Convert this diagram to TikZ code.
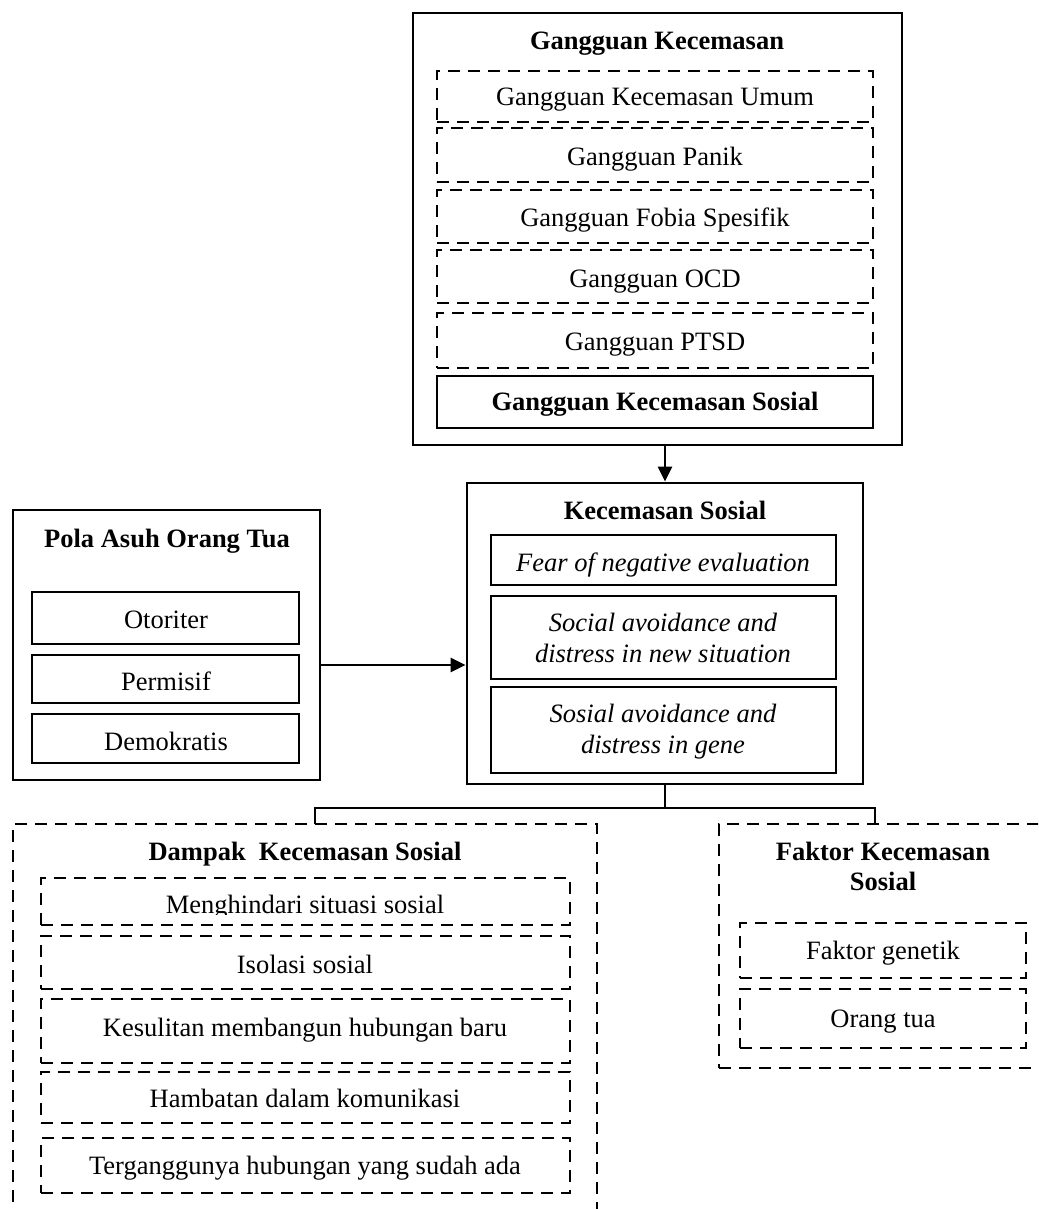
\documentclass[tikz,border=0pt]{standalone}
\usepackage{fontspec}
\setmainfont{Liberation Serif}
\usetikzlibrary{arrows.meta,fit}
\begin{document}
\begin{tikzpicture}[x=1pt,y=-1pt,
  solidbox/.style={draw, line width=2.9pt, inner sep=0pt},
  dashbox/.style={draw, line width=2.9pt, dash pattern=on 12pt off 8pt, inner sep=0pt},
  txt/.style={anchor=base, inner sep=0pt, font=\fontsize{26.5}{30.5}\selectfont},
  ttl/.style={txt, font=\fontsize{26.5}{30.5}\selectfont\bfseries},
  itx/.style={txt, font=\fontsize{26.5}{30.5}\selectfont\itshape},
  conn/.style={line width=2.9pt},
  arr/.style={conn, -{Triangle[length=15pt,width=14pt]}}]
\clip (0,0) rectangle (1038,1209);

% ---------- Gangguan Kecemasan ----------
\node[solidbox, fit={(413,13) (902,445)}] (gk) {};
\node[ttl] (gk-t) at (657,50) {Gangguan Kecemasan};
\node[dashbox, fit={(437,71) (873,122)}] (gk1) {};
\node[txt] (gk1-t) at (655,106) {Gangguan Kecemasan Umum};
\node[dashbox, fit={(437,128) (873,182)}] (gk2) {};
\node[txt] (gk2-t) at (655,166) {Gangguan Panik};
\node[dashbox, fit={(437,190) (873,243)}] (gk3) {};
\node[txt] (gk3-t) at (655,226) {Gangguan Fobia Spesifik};
\node[dashbox, fit={(437,250) (873,303)}] (gk4) {};
\node[txt] (gk4-t) at (655,287) {Gangguan OCD};
\node[dashbox, fit={(437,313) (873,368)}] (gk5) {};
\node[txt] (gk5-t) at (655,350) {Gangguan PTSD};
\node[solidbox, fit={(437,376) (873,428)}] (gk6) {};
\node[ttl] (gk6-t) at (655,410) {Gangguan Kecemasan Sosial};

% ---------- Pola Asuh Orang Tua ----------
\node[solidbox, fit={(13,510) (320,780)}] (pola) {};
\node[ttl] (pola-t) at (167,547) {Pola Asuh Orang Tua};
\node[solidbox, fit={(32,592) (299,644)}] (p1) {};
\node[txt] (p1-t) at (166,628) {Otoriter};
\node[solidbox, fit={(32,655) (299,703)}] (p2) {};
\node[txt] (p2-t) at (166,690) {Permisif};
\node[solidbox, fit={(32,714) (299,763)}] (p3) {};
\node[txt] (p3-t) at (166,750) {Demokratis};

% ---------- Kecemasan Sosial ----------
\node[solidbox, fit={(467,483) (863,784)}] (ks) {};
\node[ttl] (ks-t) at (665,519) {Kecemasan Sosial};
\node[solidbox, fit={(491,535) (836,585)}] (k1) {};
\node[itx] (k1-t) at (663,571) {Fear of negative evaluation};
\node[solidbox, fit={(491,596) (836,679)}] (k2) {};
\node[itx] (k2-a) at (663,631) {Social avoidance and};
\node[itx] (k2-b) at (663,662) {distress in new situation};
\node[solidbox, fit={(491,687) (836,773)}] (k3) {};
\node[itx] (k3-a) at (663,722) {Sosial avoidance and};
\node[itx] (k3-b) at (663,753) {distress in gene};

% ---------- Dampak Kecemasan Sosial ----------
\node[dashbox, fit={(13,824) (597,1230)}] (dk) {};
\node[ttl] (dk-t) at (305,860) {Dampak\ \ Kecemasan Sosial};
\node[dashbox, fit={(41,878) (570,925)}] (d1) {};
\begin{scope}
  \clip (41,878) rectangle (570,914);
  \node[txt] (d1-t) at (305,913) {Menghindari situasi sosial};
\end{scope}
\node[dashbox, fit={(41,936) (570,989)}] (d2) {};
\node[txt] (d2-t) at (305,973) {Isolasi sosial};
\node[dashbox, fit={(41,999) (570,1063)}] (d3) {};
\node[txt] (d3-t) at (305,1036) {Kesulitan membangun hubungan baru};
\node[dashbox, fit={(41,1072) (570,1123)}] (d4) {};
\node[txt] (d4-t) at (305,1107) {Hambatan dalam komunikasi};
\node[dashbox, fit={(41,1138) (570,1193)}] (d5) {};
\node[txt] (d5-t) at (305,1174) {Terganggunya hubungan yang sudah ada};

% ---------- Faktor Kecemasan Sosial ----------
\node[dashbox, fit={(719,824) (1047,1068)}] (fk) {};
\node[ttl] (fk-a) at (883,860) {Faktor Kecemasan};
\node[ttl] (fk-b) at (883,890) {Sosial};
\node[dashbox, fit={(740,923) (1026,978)}] (f1) {};
\node[txt] (f1-t) at (883,959) {Faktor genetik};
\node[dashbox, fit={(740,989) (1026,1048)}] (f2) {};
\node[txt] (f2-t) at (883,1027) {Orang tua};

% ---------- connectors ----------
\coordinate (ay) at (0,665);
\coordinate (bus) at (0,808);
\coordinate (dtop) at (315,824);
\coordinate (ftop) at (875,824);
\draw[arr] (gk.south -| ks.north) -- (ks.north);
\draw[arr] (pola.east |- ay) -- (ks.west |- ay);
\draw[conn] (ks.south) -- (ks.south |- bus);
\draw[conn] (dtop) |- (ftop |- bus) -- (ftop);
\end{tikzpicture}
\end{document}
